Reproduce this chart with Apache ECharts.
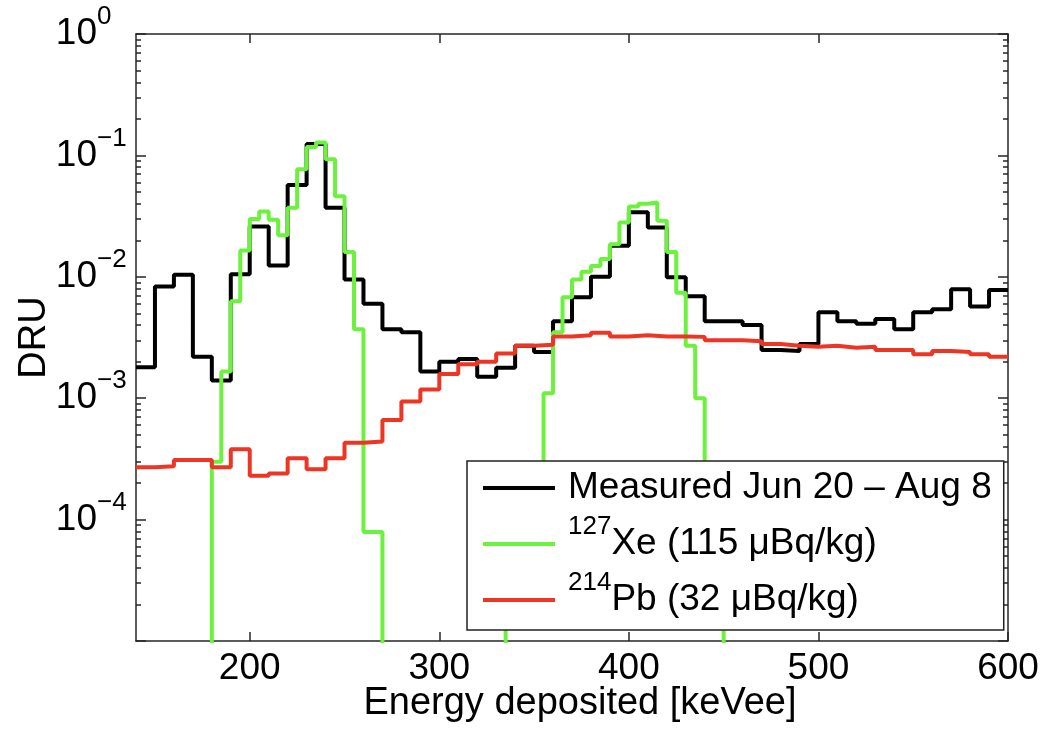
<!DOCTYPE html>
<html>
<head>
<meta charset="utf-8">
<script src="https://cdn.jsdelivr.net/npm/echarts@6/dist/echarts.min.js"></script>
<style>
  html, body { margin: 0; padding: 0; background: #fff; }
  #chart { width: 1043px; height: 732px; }
</style>
</head>
<body>
<div id="chart"></div>
<script>
// bin edges (keVee) and bin contents (DRU)
var measuredEdges = [140, 150, 160, 170, 180, 190, 200, 210, 220, 230, 240, 250, 260, 270, 280, 290,
  300, 310, 320, 330, 340, 350, 360, 370, 380, 390, 400, 410, 420, 430, 440, 450, 460, 470, 480, 490,
  500, 510, 520, 530, 540, 550, 560, 570, 580, 590, 600]
var measuredValues = [1.8e-3, 8.3e-3, 1.04e-2, 2.2e-3, 1.4e-3, 1.05e-2, 2.6e-2, 1.24e-2, 5.7e-2, 0.124,
  3.7e-2, 9.5e-3, 6.0e-3, 3.7e-3, 3.5e-3, 1.66e-3, 2.0e-3, 2.1e-3, 1.5e-3, 1.78e-3,
  2.7e-3, 2.4e-3, 4.3e-3, 6.8e-3, 1.0e-2, 1.8e-2, 3.4e-2, 2.55e-2, 9.9e-3, 6.9e-3,
  4.3e-3, 4.3e-3, 4.0e-3, 2.5e-3, 2.45e-3, 2.8e-3, 5.1e-3, 4.3e-3, 4.1e-3, 4.5e-3,
  3.7e-3, 5.1e-3, 5.4e-3, 7.9e-3, 5.7e-3, 7.8e-3]

// 1e-6 = below the bottom of the plot
var xeEdges = [175, 180, 185, 190, 195, 200, 205, 210, 215, 220, 225, 230, 235, 240, 245, 250, 255, 260,
  270, 335, 340, 345, 350, 355, 360, 365, 370, 375, 380, 385, 390, 395, 400, 405, 410, 415, 420,
  425, 430, 435, 440, 445, 450, 455]
var xeValues = [1e-6, 3.0e-4, 1.66e-3, 6.3e-3, 1.65e-2, 3.0e-2, 3.45e-2, 2.95e-2, 2.2e-2, 3.7e-2,
  7.7e-2, 0.117, 0.128, 0.093, 4.6e-2, 1.6e-2, 3.7e-3, 7.9e-5, 1e-6,
  3e-5, 8e-5, 1.6e-4, 2.6e-4, 1.1e-3, 3.5e-3, 6.8e-3, 9.5e-3, 1.1e-2, 1.23e-2, 1.4e-2,
  1.85e-2, 2.8e-2, 3.8e-2, 4.0e-2, 4.1e-2, 2.9e-2, 1.6e-2, 7.4e-3, 2.7e-3, 1.0e-3,
  2.2e-4, 5e-5, 1e-6]

var pbEdges = measuredEdges
var pbValues = [2.7e-4, 2.75e-4, 3.1e-4, 3.1e-4, 2.7e-4, 3.8e-4, 2.3e-4, 2.4e-4, 3.2e-4, 2.6e-4,
  3.2e-4, 4.3e-4, 4.4e-4, 6.6e-4, 9.4e-4, 1.18e-3, 1.58e-3, 1.9e-3, 2.0e-3, 2.33e-3,
  2.7e-3, 2.75e-3, 3.23e-3, 3.3e-3, 3.46e-3, 3.23e-3, 3.3e-3, 3.23e-3, 3.23e-3, 3.2e-3,
  3.0e-3, 3.0e-3, 2.95e-3, 2.8e-3, 2.7e-3, 2.65e-3, 2.7e-3, 2.6e-3, 2.65e-3, 2.5e-3,
  2.5e-3, 2.3e-3, 2.45e-3, 2.4e-3, 2.3e-3, 2.2e-3]

var xTicks = [200, 300, 400, 500, 600]
var yDecades = [1e-5, 1e-4, 1e-3, 1e-2, 1e-1, 1]
var yMinorTicks = []
for (var d = 0; d < yDecades.length - 1; d++) {
  for (var k = 2; k <= 9; k++) yMinorTicks.push(k * yDecades[d])
}

var legendRich = {
  'Measured': '{b|Measured Jun 20 \u2013 Aug 8}',
  'Xe': '{s|127}{b|Xe (115 \u03bcBq/kg)}',
  'Pb': '{s|214}{b|Pb (32 \u03bcBq/kg)}'
}

function histData(edges, values) {
  var out = values.map(function (v, i) { return [edges[i], v] })
  out.push([edges[edges.length - 1], values[values.length - 1]])
  return out
}

function expOf(v) { return Math.round(Math.log10(v)) }

var FONT = 'Liberation Sans, Arial, Helvetica, sans-serif'
var axisColor = '#262626'
// superscript token: tiny box pinned to the top of the line
var richSup = {
  b: { fontSize: 37, lineHeight: 40, fontFamily: FONT, color: '#000' },
  s: { fontSize: 26, height: 6, lineHeight: 6, verticalAlign: 'top', fontFamily: FONT, color: '#000' }
}

var spine = { show: true, lineStyle: { color: axisColor, width: 1.5 } }

function xAx(pos) {
  return {
    type: 'value', min: 140, max: 600, position: pos,
    axisLine: spine,
    axisTick: { show: true, inside: true, length: 9, customValues: xTicks, lineStyle: { color: axisColor, width: 1.5 } },
    axisLabel: pos === 'bottom'
      ? { show: true, customValues: xTicks, fontSize: 37, fontFamily: FONT, color: '#000', margin: 9 }
      : { show: false },
    splitLine: { show: false }
  }
}

function yAx(pos, minor) {
  var ax = {
    type: 'log', min: 1e-5, max: 1, logBase: 10, position: pos,
    axisLine: minor ? { show: false } : spine,
    axisTick: { show: true, inside: true, length: minor ? 5 : 10, lineStyle: { color: axisColor, width: 1.5 } },
    axisLabel: { show: false },
    splitLine: { show: false },
    minorTick: { show: false }
  }
  if (minor) ax.axisTick.customValues = yMinorTicks
  return ax
}

// left axis: the "10" part of each label
var yMain = yAx('left', false)
yMain.axisLabel = {
  show: true, margin: 39, fontSize: 37, fontFamily: FONT, color: '#000',
  formatter: function (v) { return expOf(v) <= -5 ? '' : '10' }
}
yMain.name = 'DRU'
yMain.nameLocation = 'middle'
yMain.nameGap = 82
yMain.nameMoveOverlap = false
yMain.nameTextStyle = { fontSize: 38, fontFamily: FONT, color: '#000' }

// second left axis carrying only the exponents, sitting above the tick
var yExp = yAx('left', true)
yExp.axisTick = { show: false }
yExp.axisLabel = {
  show: true, margin: 39, align: 'left', verticalAlign: 'bottom', lineHeight: 34,
  fontSize: 26, fontFamily: FONT, color: '#000',
  formatter: function (v) {
    var p = expOf(v)
    if (p <= -5) return ''
    return p < 0 ? '\u2212' + (-p) : String(p)
  }
}

var xMain = xAx('bottom')
xMain.name = 'Energy deposited [keVee]'
xMain.nameLocation = 'middle'
xMain.nameGap = 44
xMain.nameMoveOverlap = false
xMain.nameTextStyle = { fontSize: 38, fontFamily: FONT, color: '#000', padding: [0, 0, 0, 16] }

var option = {
  animation: false,
  backgroundColor: '#fff',
  grid: { left: 136, right: 35, top: 34, bottom: 91, outerBoundsMode: 'none' },
  xAxis: [xMain, xAx('top')],
  yAxis: [yMain, yAx('left', true), yAx('right', false), yAx('right', true), yExp],
  legend: {
    orient: 'vertical',
    left: 467, top: 461,
    padding: [7, 12, 10, 16],
    itemGap: 6,
    itemWidth: 72, itemHeight: 4,
    icon: 'rect',
    backgroundColor: '#fff',
    borderColor: '#222', borderWidth: 1.5, borderRadius: 0,
    data: ['Measured', 'Xe', 'Pb'],
    formatter: function (name) { return legendRich[name] },
    textStyle: { fontSize: 37, lineHeight: 40, fontFamily: FONT, color: '#000', padding: [0, 0, 0, 8], rich: richSup }
  },
  series: [
    {
      name: 'Measured', type: 'line', step: 'end', symbol: 'none',
      data: histData(measuredEdges, measuredValues),
      lineStyle: { color: '#000', width: 4 }, itemStyle: { color: '#000' }
    },
    {
      name: 'Xe', type: 'line', step: 'end', symbol: 'none',
      data: histData(xeEdges, xeValues),
      lineStyle: { color: '#6cf23e', width: 4 }, itemStyle: { color: '#6cf23e' }
    },
    {
      name: 'Pb', type: 'line', step: 'end', symbol: 'none',
      data: histData(pbEdges, pbValues),
      lineStyle: { color: '#ee3524', width: 4 }, itemStyle: { color: '#ee3524' }
    }
  ]
}

var chart = echarts.init(document.getElementById('chart'), null, { renderer: 'canvas' })
chart.setOption(option)
window.onresize = function () { chart.resize() }
</script>
</body>
</html>
